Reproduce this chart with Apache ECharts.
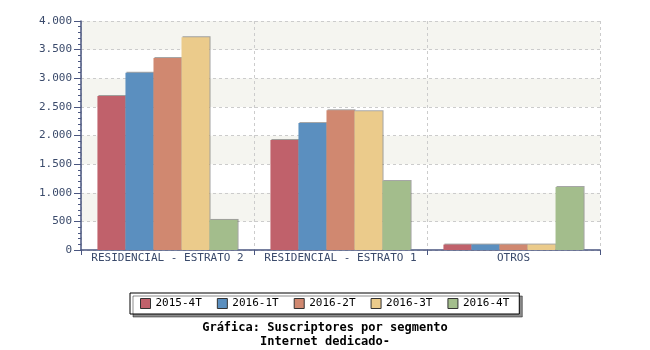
<!DOCTYPE html>
<html><head><meta charset="utf-8">
<script src="https://cdn.jsdelivr.net/npm/echarts@6/dist/echarts.min.js"></script>
<style>html,body{margin:0;padding:0;background:#fff}#c{width:650px;height:350px}</style>
</head><body><div id="c"></div>
<script>
var categories = ['RESIDENCIAL - ESTRATO 2', 'RESIDENCIAL - ESTRATO 1', 'OTROS'];
var seriesNames = ['2015-4T', '2016-1T', '2016-2T', '2016-3T', '2016-4T'];
var s2015_4T = [2690, 1920, 95];
var s2016_1T = [3095, 2220, 95];
var s2016_2T = [3355, 2440, 95];
var s2016_3T = [3715, 2425, 95];
var s2016_4T = [525, 1205, 1100];
var colors = ['#c0616b', '#5b8fbf', '#d08870', '#ebcb8b', '#a3bd8c'];
var FONT = '"DejaVu Sans Mono", monospace';
var dataSets = [s2015_4T, s2016_1T, s2016_2T, s2016_3T, s2016_4T];
var chart = echarts.init(document.getElementById('c'));
chart.setOption({
  animation: false,
  grid: {left: 81, right: 50, top: 21, bottom: 100},
  title: {
    text: 'Gráfica: Suscriptores por segmento\nInternet dedicado-',
    left: 'center', top: 316,
    textStyle: {fontFamily: FONT, fontSize: 12, fontWeight: 'bold', color: '#000', lineHeight: 14}
  },
  legend: {
    data: seriesNames, top: 293, left: 130,
    itemWidth: 10, itemHeight: 10, itemGap: 15,
    padding: [5, 10, 5, 10],
    backgroundColor: '#fff', borderColor: '#000', borderWidth: 1,
    shadowColor: 'rgba(0,0,0,0.45)', shadowOffsetX: 3, shadowOffsetY: 3, shadowBlur: 0,
    icon: 'rect',
    itemStyle: {borderColor: '#333', borderWidth: 1},
    textStyle: {fontFamily: FONT, fontSize: 11, color: '#000'}
  },
  xAxis: {
    type: 'category', data: categories,
    axisLine: {lineStyle: {color: '#4a5680', width: 1.5}},
    axisTick: {show: true, length: 5, lineStyle: {color: '#4a5680'}},
    axisLabel: {fontFamily: FONT, fontSize: 11, color: '#3a4a6b', margin: 3, interval: 0},
    splitLine: {show: true, lineStyle: {type: [3, 3], color: '#cccccc'}}
  },
  yAxis: {
    type: 'value', min: 0, max: 4000, interval: 500,
    axisLine: {show: true, lineStyle: {color: '#4a5680', width: 1.5}},
    axisTick: {show: true, inside: false, length: 7, lineStyle: {color: '#4a5680'}},
    minorTick: {show: true, splitNumber: 5, length: 3, lineStyle: {color: '#4a5680'}},
    axisLabel: {fontFamily: FONT, fontSize: 11, color: '#3a4a6b', margin: 9,
      formatter: function (v) { return String(v).replace(/\B(?=(\d{3})+(?!\d))/g, '.'); }},
    splitLine: {show: true, lineStyle: {type: [3, 3], color: '#cccccc'}},
    splitArea: {show: true, areaStyle: {color: ['#ffffff', '#f5f5f0']}}
  },
  series: seriesNames.map(function (n, i) {
    return {
      name: n, type: 'bar', data: dataSets[i],
      barGap: '0%', barCategoryGap: '19%',
      itemStyle: {color: colors[i], shadowColor: 'rgba(0,0,0,0.35)', shadowOffsetX: 1, shadowOffsetY: -1, shadowBlur: 0}
    };
  })
});
</script></body></html>
